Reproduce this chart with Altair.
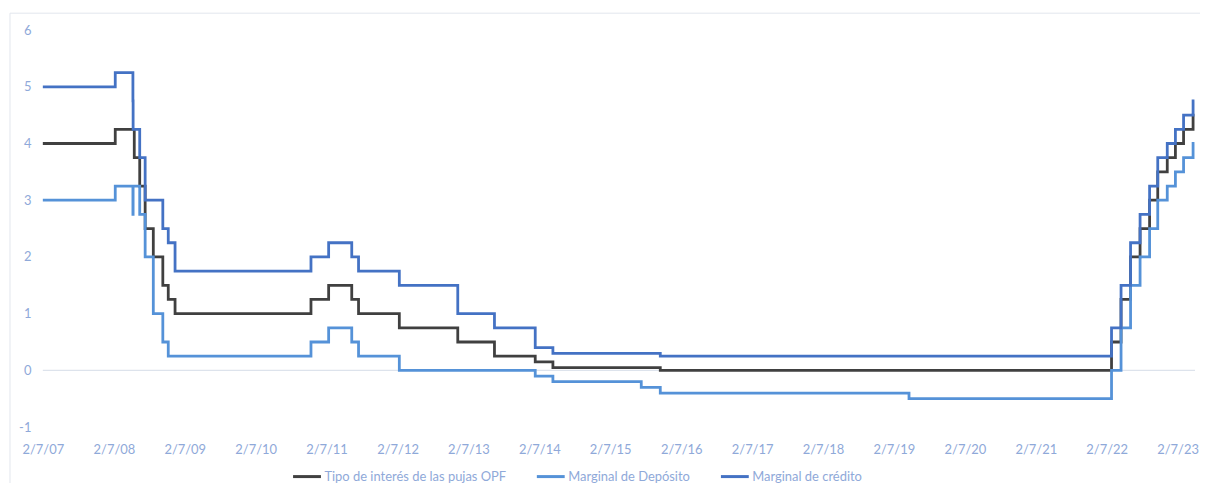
import altair as alt
import pandas as pd

# Fechas de cambio de tipos (BCE) y valores de cada serie
dates = ["2007-07-02", "2008-07-09", "2008-10-08", "2008-10-09", "2008-10-15", "2008-11-12",
         "2008-12-10", "2009-01-21", "2009-03-11", "2009-04-08", "2009-05-13", "2011-04-13",
         "2011-07-13", "2011-11-09", "2011-12-14", "2012-07-11", "2013-05-08", "2013-11-13",
         "2014-06-11", "2014-09-10", "2015-12-09", "2016-03-16", "2019-09-18", "2022-07-27",
         "2022-09-14", "2022-11-02", "2022-12-21", "2023-02-08", "2023-03-22", "2023-05-10",
         "2023-06-21", "2023-08-02", "2023-09-20", "2023-09-27"]
opf = [4.00, 4.25, 4.25, 4.25, 3.75, 3.25, 2.50, 2.00, 1.50, 1.25, 1.00, 1.25,
       1.50, 1.25, 1.00, 0.75, 0.50, 0.25, 0.15, 0.05, 0.05, 0.00, 0.00, 0.50,
       1.25, 2.00, 2.50, 3.00, 3.50, 3.75, 4.00, 4.25, 4.50, 4.50]
deposito = [3.00, 3.25, 2.75, 3.25, 3.25, 2.75, 2.00, 1.00, 0.50, 0.25, 0.25, 0.50,
            0.75, 0.50, 0.25, 0.00, 0.00, 0.00, -0.10, -0.20, -0.30, -0.40, -0.50, 0.00,
            0.75, 1.50, 2.00, 2.50, 3.00, 3.25, 3.50, 3.75, 4.00, 4.00]
credito = [5.00, 5.25, 4.75, 4.25, 4.25, 3.75, 3.00, 3.00, 2.50, 2.25, 1.75, 2.00,
           2.25, 2.00, 1.75, 1.50, 1.00, 0.75, 0.40, 0.30, 0.30, 0.25, 0.25, 0.75,
           1.50, 2.25, 2.75, 3.25, 3.75, 4.00, 4.25, 4.50, 4.75, 4.75]

series_names = ["Tipo de interés de las pujas OPF", "Marginal de Depósito", "Marginal de crédito"]
series_colors = ["#404040", "#5592D8", "#4472C4"]
tick_years = list(range(2007, 2024))
y_ticks = [-1, 0, 1, 2, 3, 4, 5, 6]

rows = []
for name, vals in zip(series_names, [opf, deposito, credito]):
    for d, v in zip(dates, vals):
        rows.append({"fecha": pd.Timestamp(d), "tipo": v, "serie": name})
df = pd.DataFrame(rows)

FONT = "Lato"
LABEL = "#8FA9D9"
FS = 13

x_scale = alt.Scale(domain=[alt.DateTime(year=2007, month=7, date=2),
                            alt.DateTime(year=2023, month=9, date=30)])
y_scale = alt.Scale(domain=[-1, 6], nice=False, zero=False)

lines = alt.Chart(df).mark_line(interpolate="step-after", strokeWidth=2.8).encode(
    x=alt.X("fecha:T", scale=x_scale, title=None,
            axis=alt.Axis(values=[alt.DateTime(year=y, month=7, date=2) for y in tick_years],
                          format="%-d/%-m/%y", labelFontSize=FS, labelColor=LABEL,
                          labelFont=FONT, domain=False, ticks=False, grid=False,
                          labelPadding=17, labelFlush=False, labelOverlap=False)),
    y=alt.Y("tipo:Q", scale=y_scale, title=None,
            axis=alt.Axis(values=y_ticks, labelExpr="'' + datum.value", labelFontSize=FS,
                          labelColor=LABEL, labelFont=FONT, domain=False, ticks=False,
                          grid=False, labelPadding=12)),
    color=alt.Color("serie:N",
                    scale=alt.Scale(domain=series_names, range=series_colors),
                    legend=alt.Legend(title=None, orient="none", legendX=250, legendY=433,
                                      direction="horizontal", columns=3,
                                      symbolType="stroke", symbolSize=784,
                                      symbolStrokeWidth=3, labelFont=FONT,
                                      labelFontSize=FS, labelColor=LABEL,
                                      labelOffset=2, columnPadding=24, labelLimit=400)),
    detail="serie:N",
)

zero = alt.Chart(pd.DataFrame({"y": [0]})).mark_rule(color="#DDE3EC", strokeWidth=1.5).encode(
    y=alt.Y("y:Q", scale=y_scale)
)

border = alt.Chart(pd.DataFrame({"a": [0]})).mark_rect(
    fillOpacity=0, stroke="#E2E6ED", strokeWidth=1
).encode(x=alt.value(-33), x2=alt.value(1175), y=alt.value(-17), y2=alt.value(520))

chart = alt.layer(border, zero, lines).properties(
    width=1158, height=399,
    autosize=alt.AutoSizeParams(type="none"),
    padding={"left": 35, "top": 21, "right": 5, "bottom": 55},
    background="white",
).configure_view(strokeWidth=0)

chart.save("out.html", embed_options={"renderer": "svg", "actions": False})
